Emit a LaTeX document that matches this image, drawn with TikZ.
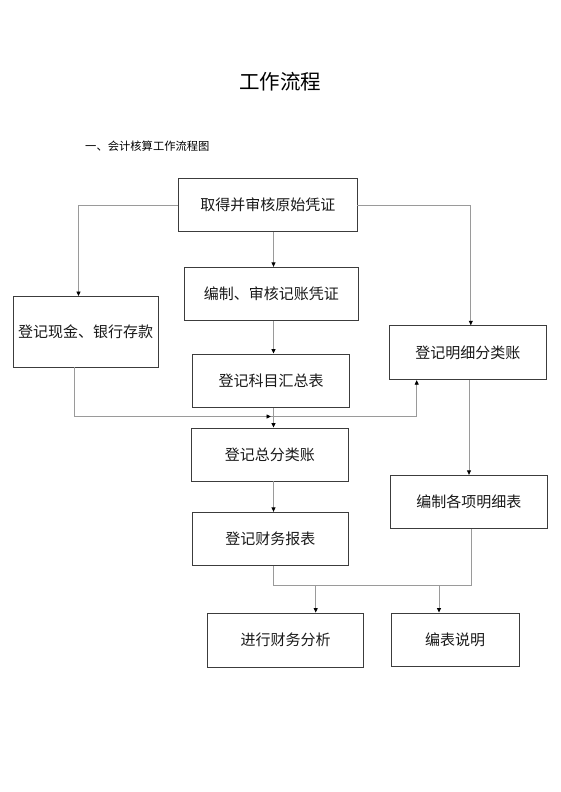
\documentclass[tikz,border=0pt]{standalone}
\usepackage{fontspec}
\setmainfont{Noto Sans CJK SC}
\usetikzlibrary{arrows.meta,calc}
\definecolor{boxline}{HTML}{3C3C3C}
\definecolor{conline}{HTML}{9A9A9A}
\tikzset{
  stepbox/.style={draw=boxline,line width=0.9pt,minimum width=#1,minimum height=53pt,inner sep=0pt,font=\fontsize{15}{18}\selectfont,text=black!90},
  conn/.style={draw=conline,line width=0.8pt},
  arr/.style={conn,-{Triangle[length=4.5pt,width=4pt,fill=black,color=black]}},
}
\begin{document}
\begin{tikzpicture}[x=1pt,y=-1pt]
\useasboundingbox[fill=white] (0,0) rectangle (560,792);
% titles
\node[font=\fontsize{20.5}{24}\selectfont] (title) at (280,81.5) {工作流程};
\node[font=\fontsize{11.3}{14}\selectfont,anchor=west,inner sep=0pt] (sub) at (85,146) {一、会计核算工作流程图};
% boxes
\node[stepbox=178.5pt] (A) at (267.75,205) {取得并审核原始凭证};
\node[stepbox=173.5pt] (B) at (271.25,293.8) {编制、审核记账凭证};
\node[stepbox=145pt,minimum height=70.5pt] (C) at (85.5,331.75) {登记现金、银行存款};
\node[stepbox=157.2pt,minimum height=53.7pt] (D) at (271,380.85) {登记科目汇总表};
\node[stepbox=156.9pt,minimum height=54pt] (E) at (467.85,352.7) {登记明细分类账};
\node[stepbox=157.2pt] (F) at (269.9,454.5) {登记总分类账};
\node[stepbox=156pt,minimum height=53.4pt] (G) at (270.45,539) {登记财务报表};
\node[stepbox=157.2pt,minimum height=53.4pt] (H) at (468.8,502) {编制各项明细表};
\node[stepbox=155.7pt,minimum height=54pt] (I) at (285.65,640) {进行财务分析};
\node[stepbox=128.4pt] (J) at (455.2,639.5) {编表说明};
% helper coordinates
\coordinate (sp) at (273.5,0);
\coordinate (lx) at (78.5,0);
\coordinate (rx) at (470.8,0);
\coordinate (cx) at (74.7,0);
\coordinate (ex) at (416.7,0);
\coordinate (hx) at (469,0);
\coordinate (gx) at (471.7,0);
\coordinate (mid) at (0,416.5);
\coordinate (low) at (0,585);
\coordinate (ix) at (315.7,0);
\coordinate (jx) at (439,0);
\coordinate (tip) at (271,416.5);
% connectors
\draw[arr] (A.west |- 0,205.7) -| (C.north -| lx);
\draw[arr] (A.east |- 0,205.7) -| (E.north -| rx);
\draw[arr] (A.south -| sp) -- (B.north -| sp);
\draw[arr] (B.south -| sp) -- (D.north -| sp);
\draw[arr] (D.south -| sp) -- (F.north -| sp);
\draw[arr] (F.south -| sp) -- (G.north -| sp);
\draw[arr] (C.south -| cx) |- (tip);
\draw[conn,-{Triangle[length=4.5pt,width=4pt,fill=black,color=black]}] (tip) -| (E.south -| ex);
\draw[arr] (E.south -| hx) -- (H.north -| hx);
\draw[conn] (G.south -| sp) |- (low -| gx) -- (H.south -| gx);
\draw[arr] (low -| ix) -- (I.north -| ix);
\draw[arr] (low -| jx) -- (J.north -| jx);
\end{tikzpicture}
\end{document}
